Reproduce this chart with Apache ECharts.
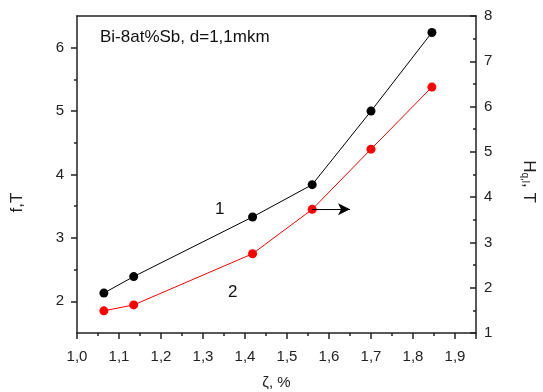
<!DOCTYPE html>
<html>
<head>
<meta charset="utf-8">
<script src="https://cdn.jsdelivr.net/npm/echarts@6/dist/echarts.min.js"></script>
<style>
  html, body { margin: 0; padding: 0; background: #fff; }
  #chart { width: 543px; height: 392px; }
</style>
</head>
<body>
<div id="chart"></div>
<script>
// zeta, % (shared x values)
const zeta = [1.064, 1.135, 1.418, 1.56, 1.70, 1.845];
// curve 1: f, T (left axis)
const fValues = [2.13, 2.39, 3.33, 3.84, 5.0, 6.24];
// curve 2: H q.l., T (right axis)
const hValues = [1.49, 1.62, 2.75, 3.73, 5.06, 6.43];

const leftTicks = [2, 3, 4, 5, 6];
const leftMinorTicks = [2.5, 3.5, 4.5, 5.5];
const arrowFrom = [1.56, 3.73];
const arrowTo = [1.65, 3.73];

const FONT = '"Liberation Sans", Arial, sans-serif';
const comma = (v) => v.toFixed(1).replace('.', ',');
const toPairs = (xs, ys) => xs.map((x, i) => [x, ys[i]]);

const chart = echarts.init(document.getElementById('chart'));

chart.setOption({
    animation: false,
    backgroundColor: '#fff',
    grid: { left: 77, right: 67, top: 16, bottom: 59, outerBoundsMode: 'none' },

    xAxis: [
        {
            type: 'value',
            min: 1,
            max: 1.95,
            interval: 0.1,
            position: 'bottom',
            name: 'ζ, %',
            nameLocation: 'middle',
            nameGap: 42,
            nameTextStyle: { fontFamily: FONT, fontSize: 15, color: '#222' },
            axisLine: { lineStyle: { color: '#222', width: 1.5 } },
            axisTick: { length: 6, lineStyle: { color: '#222', width: 1.5 } },
            minorTick: { show: true, splitNumber: 2, length: 3, lineStyle: { color: '#222', width: 1.5 } },
            splitLine: { show: false },
            axisLabel: {
                margin: 16,
                showMaxLabel: false,
                fontFamily: FONT,
                fontSize: 15,
                color: '#222',
                formatter: comma,
            },
        },
        {
            type: 'value',
            min: 1,
            max: 1.95,
            position: 'top',
            axisLine: { lineStyle: { color: '#222', width: 1.5 } },
            axisTick: { show: false },
            axisLabel: { show: false },
            splitLine: { show: false },
        },
    ],

    yAxis: [
        {
            type: 'value',
            min: 1.5,
            max: 6.5,
            position: 'left',
            name: 'f,T',
            nameLocation: 'middle',
            nameGap: 51,
            nameRotate: 90,
            nameTextStyle: { fontFamily: FONT, fontSize: 17, color: '#222', padding: [0, 56, 0, 0] },
            axisLine: { show: true, lineStyle: { color: '#222', width: 1.5 } },
            axisTick: { show: true, length: 6, customValues: leftTicks, lineStyle: { color: '#222', width: 1.5 } },
            axisLabel: {
                customValues: leftTicks,
                margin: 13,
                fontFamily: FONT,
                fontSize: 15,
                color: '#222',
                formatter: (v) => String(v),
            },
            splitLine: { show: false },
        },
        {
            type: 'value',
            min: 1,
            max: 8,
            interval: 1,
            position: 'right',
            name: '{a|H}{b|q,l}{a|, T}',
            nameLocation: 'middle',
            nameGap: 44,
            nameRotate: -90,
            nameTextStyle: {
                fontFamily: FONT,
                color: '#222',
                padding: [0, 0, 0, 14],
                rich: {
                    a: { fontFamily: FONT, fontSize: 17, color: '#222' },
                    b: { fontFamily: FONT, fontSize: 10, color: '#222', verticalAlign: 'bottom', padding: [8, 0, 0, 0] },
                },
            },
            axisLine: { show: true, lineStyle: { color: '#222', width: 1.5 } },
            axisTick: { show: true, inside: true, length: 6, lineStyle: { color: '#222', width: 1.5 } },
            minorTick: { show: true, splitNumber: 2, length: 3, lineStyle: { color: '#222', width: 1.5 } },
            axisLabel: {
                margin: 8,
                fontFamily: FONT,
                fontSize: 15,
                color: '#222',
            },
            splitLine: { show: false },
        },
        {
            // minor ticks of the left axis
            type: 'value',
            min: 1.5,
            max: 6.5,
            position: 'left',
            axisLine: { show: false },
            axisTick: { show: true, length: 3, customValues: leftMinorTicks, lineStyle: { color: '#222', width: 1.5 } },
            axisLabel: { show: false },
            splitLine: { show: false },
        },
    ],

    graphic: [
        {
            type: 'text',
            left: 100,
            top: 29,
            style: { text: 'Bi-8at%Sb, d=1,1mkm', fontFamily: FONT, fontSize: 17, fill: '#111' },
        },
        {
            type: 'text',
            left: 215,
            top: 201,
            style: { text: '1', fontFamily: FONT, fontSize: 17, fill: '#111' },
        },
        {
            type: 'text',
            left: 228,
            top: 284,
            style: { text: '2', fontFamily: FONT, fontSize: 17, fill: '#111' },
        },
    ],

    series: [
        {
            name: 'f',
            type: 'line',
            xAxisIndex: 0,
            yAxisIndex: 0,
            data: toPairs(zeta, fValues),
            symbol: 'circle',
            symbolSize: 9,
            itemStyle: { color: '#000' },
            lineStyle: { color: '#000', width: 1 },
        },
        {
            name: 'Hql',
            type: 'line',
            xAxisIndex: 0,
            yAxisIndex: 1,
            data: toPairs(zeta, hValues),
            symbol: 'circle',
            symbolSize: 9,
            itemStyle: { color: '#ff0000' },
            lineStyle: { color: '#ff0000', width: 1 },
            markLine: {
                silent: true,
                symbol: ['none', 'arrow'],
                symbolSize: [9, 12],
                label: { show: false },
                lineStyle: { color: '#000', width: 1.2, type: 'solid' },
                data: [[{ coord: arrowFrom }, { coord: arrowTo }]],
            },
        },
    ],
});
</script>
</body>
</html>
